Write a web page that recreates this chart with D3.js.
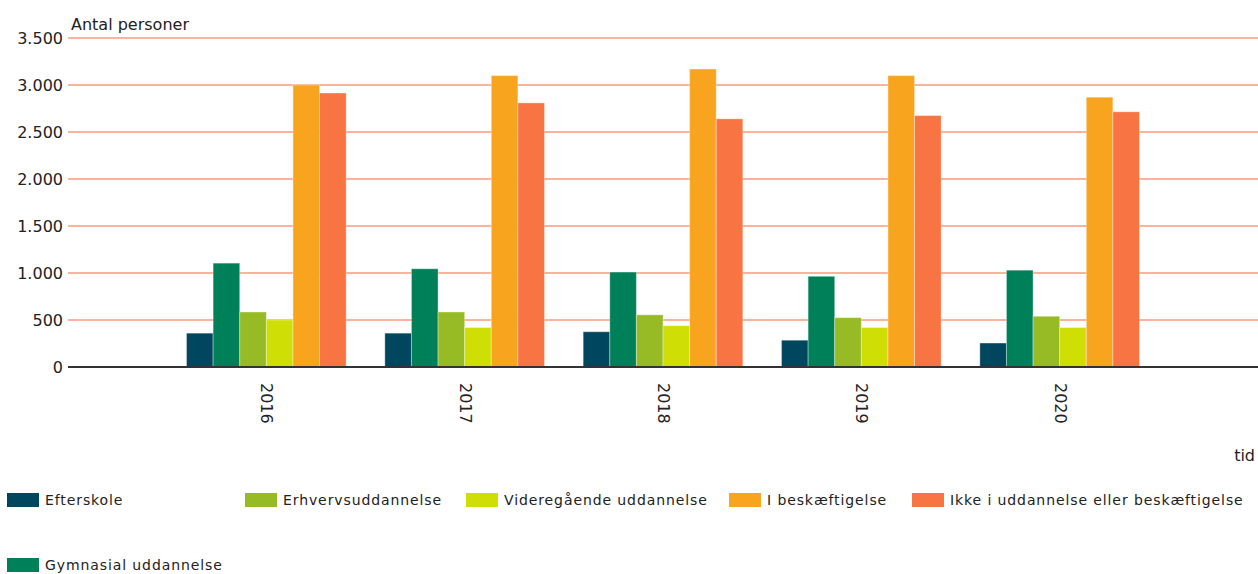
<!DOCTYPE html>
<html>
<head>
<meta charset="utf-8">
<script src="https://cdn.jsdelivr.net/npm/d3@7"></script>
<style>
  body { margin: 0; background: #fff; }
  text { font-family: "DejaVu Sans", Verdana, sans-serif; fill: #222; }
</style>
</head>
<body>
<div id="chart"></div>
<script>
const width = 1258;
const height = 574;
const margin = {top: 38, right: 0, bottom: 207, left: 68};
const innerWidth = width - margin.left - margin.right;
const innerHeight = height - margin.top - margin.bottom;

// data
const years = ["2016", "2017", "2018", "2019", "2020"];
const series = ["Efterskole", "Gymnasial uddannelse", "Erhvervsuddannelse",
  "Videregående uddannelse", "I beskæftigelse", "Ikke i uddannelse eller beskæftigelse"];
const efterskole = [360, 360, 375, 285, 255];
const gymnasial = [1105, 1045, 1010, 965, 1030];
const erhverv = [585, 585, 555, 525, 540];
const videregaaende = [500, 420, 440, 420, 420];
const beskaeftigelse = [3000, 3100, 3170, 3100, 2870];
const ikke = [2915, 2810, 2640, 2675, 2715];
const yTicks = [0, 500, 1000, 1500, 2000, 2500, 3000, 3500];
const colors = ["#00465f", "#008059", "#96bb24", "#cfdf06", "#f9a41e", "#f87443"];

const values = [efterskole, gymnasial, erhverv, videregaaende, beskaeftigelse, ikke];

const svg = d3.select("#chart")
  .append("svg")
    .attr("width", width)
    .attr("height", height);

const g = svg.append("g")
  .attr("transform", `translate(${margin.left},${margin.top})`);

const xScale = d3.scalePoint()
  .domain(years)
  .range([0, innerWidth])
  .padding(1);

const groupWidth = xScale.step() * 0.805;
const xInner = d3.scaleBand()
  .domain(series)
  .range([-groupWidth / 2, groupWidth / 2]);

const yScale = d3.scaleLinear()
  .domain([0, 3500])
  .range([innerHeight, 0]);

const fmt = d3.formatLocale({decimal: ",", thousands: ".", grouping: [3], currency: ["", " kr."]}).format(",d");

//gridlines
g.selectAll(".grid")
  .data(yTicks.filter(d => d > 0))
  .join("line")
    .attr("class", "grid")
    .attr("x1", 0)
    .attr("x2", innerWidth)
    .attr("y1", d => yScale(d))
    .attr("y2", d => yScale(d))
    .attr("stroke", "#f89a7b")
    .attr("stroke-width", 1.5);

//y axis labels
const yAxis = g.append("g")
  .call(d3.axisLeft(yScale).tickValues(yTicks).tickFormat(fmt).tickSize(0).tickPadding(5))
  .attr("font-size", 16)
  .attr("font-family", "DejaVu Sans, Verdana, sans-serif");
yAxis.select(".domain").remove();
yAxis.selectAll("text")
  .attr("fill", "#222");

//bars
years.forEach((year, i) => {
  const group = g.append("g")
    .attr("transform", `translate(${xScale(year)},0)`);
  group.selectAll("rect")
    .data(series.map((s, j) => ({series: s, value: values[j][i], color: colors[j]})))
    .join("rect")
      .attr("x", d => xInner(d.series))
      .attr("width", xInner.bandwidth())
      .attr("y", d => yScale(d.value))
      .attr("height", d => innerHeight - yScale(d.value))
      .attr("fill", d => d.color)
      .attr("stroke", "#fff")
      .attr("stroke-opacity", 0.35)
      .attr("stroke-width", 1);
});

//baseline
g.append("line")
  .attr("x1", 0)
  .attr("x2", innerWidth)
  .attr("y1", yScale(0))
  .attr("y2", yScale(0))
  .attr("stroke", "#333")
  .attr("stroke-width", 2);

//x axis labels, rotated
const xAxis = g.append("g")
  .attr("transform", `translate(0,${innerHeight})`)
  .call(d3.axisBottom(xScale).tickSize(0).tickPadding(0))
  .attr("font-size", 16)
  .attr("font-family", "DejaVu Sans, Verdana, sans-serif");
xAxis.select(".domain").remove();
xAxis.selectAll("text")
  .attr("fill", "#222")
  .attr("text-anchor", "start")
  .attr("transform", "rotate(90)")
  .attr("x", 16)
  .attr("y", 0)
  .attr("dy", "0.35em");

//axis titles
svg.append("text")
  .attr("x", 71)
  .attr("y", 30)
  .style("font-size", "16px")
  .text("Antal personer");

svg.append("text")
  .attr("x", 1255)
  .attr("y", 461)
  .attr("text-anchor", "end")
  .style("font-size", "16px")
  .text("tid");

//legend: one row, with the 2nd item wrapped below
const legendPos = [[7, 500], [7, 565], [245, 500], [466, 500], [729, 500], [912, 500]];
const legend = svg.append("g");
series.forEach((s, j) => {
  const item = legend.append("g")
    .attr("transform", `translate(${legendPos[j][0]},${legendPos[j][1]})`);
  item.append("rect")
    .attr("x", 0)
    .attr("y", -7)
    .attr("width", 32)
    .attr("height", 14)
    .attr("fill", colors[j]);
  item.append("text")
    .attr("x", 38)
    .attr("y", 0)
    .attr("dy", "0.35em")
    .style("font-size", "14px")
    .style("letter-spacing", "0.9px")
    .text(s);
});
</script>
</body>
</html>
